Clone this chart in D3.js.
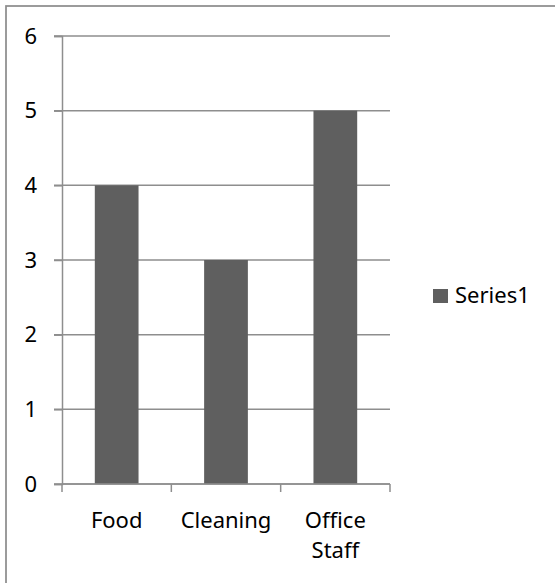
<!DOCTYPE html>
<html lang="en">
<head>
    <meta charset="UTF-8">
    <script src="https://d3js.org/d3.v7.min.js"></script>
    <title>Bar Chart</title>
</head>
<style>
*{
    font-family: 'Noto Sans', sans-serif;
}

body {
    margin: 0;
    background-color: white;
}

svg text{
    font-size: 22px;
    fill: #000;
}
</style>
<body>
    <svg id='canvas'></svg>
</body>
<script>
let categories = ['Food', 'Cleaning', 'Office Staff']
let values = [4, 3, 5]
let yTicks = [0, 1, 2, 3, 4, 5, 6]
let seriesName = 'Series1'

let width = 555
let height = 583

let plotLeft = 62
let plotRight = 390
let plotTop = 36
let plotBottom = 484

let barColor = '#5f5f5f'
let lineColor = '#8e8e8e'

let svg = d3.select('#canvas')
    .attr('width', width)
    .attr('height', height)

// outer chart border, runs off the right and bottom edge
svg.append('rect')
    .attr('x', 6)
    .attr('y', 6)
    .attr('width', width + 10)
    .attr('height', height + 10)
    .attr('fill', 'white')
    .attr('stroke', lineColor)
    .attr('stroke-width', 1.75)

let xScale = d3.scaleBand()
    .domain(categories)
    .range([plotLeft, plotRight])
    .paddingInner(0.6)
    .paddingOuter(0.3)

let yScale = d3.scaleLinear()
    .domain([0, 6])
    .range([plotBottom, plotTop])

// gridlines (with the little tick stub on the left)
svg.append('g')
    .selectAll('line')
    .data(yTicks)
    .enter()
    .append('line')
    .attr('x1', plotLeft - 8)
    .attr('x2', plotRight)
    .attr('y1', (d) => yScale(d))
    .attr('y2', (d) => yScale(d))
    .attr('stroke', lineColor)
    .attr('stroke-width', 1.5)

// bars
svg.append('g')
    .selectAll('rect')
    .data(values)
    .enter()
    .append('rect')
    .attr('x', (d, i) => xScale(categories[i]))
    .attr('width', xScale.bandwidth())
    .attr('y', (d) => yScale(d))
    .attr('height', (d) => yScale(0) - yScale(d))
    .attr('fill', barColor)

// y axis
let yAxis = d3.axisLeft(yScale)
    .tickValues(yTicks)
    .tickSize(8)
    .tickPadding(17)
    .tickFormat(d3.format('d'))

let yAxisG = svg.append('g')
    .attr('transform', 'translate(' + plotLeft + ', 0)')
    .call(yAxis)

yAxisG.select('.domain').attr('stroke', lineColor).attr('stroke-width', 1.5)
yAxisG.selectAll('.tick line').attr('stroke', lineColor).attr('stroke-width', 1.5)
yAxisG.selectAll('.tick text')
    .style('font-size', '22px')
    .style('font-family', "'Noto Sans', sans-serif")
    .attr('fill', '#000')

// x axis: labels at band centres, ticks at band boundaries
let xAxis = d3.axisBottom(xScale)
    .tickSize(0)
    .tickPadding(28)

let xAxisG = svg.append('g')
    .attr('transform', 'translate(0, ' + plotBottom + ')')
    .call(xAxis)

xAxisG.select('.domain').remove()
xAxisG.selectAll('.tick text')
    .style('font-size', '22px')
    .style('font-family', "'Noto Sans', sans-serif")
    .attr('fill', '#000')
    .each(function(d) {
        let text = d3.select(this)
        let words = d.split(' ')
        if (words.length > 1) {
            let dy = text.attr('dy')
            text.text(null)
            words.forEach((w, i) => {
                text.append('tspan')
                    .attr('x', 0)
                    .attr('dy', i == 0 ? dy : '1.4em')
                    .text(w)
            })
        }
    })

svg.append('line')
    .attr('x1', plotLeft)
    .attr('x2', plotRight)
    .attr('y1', plotBottom)
    .attr('y2', plotBottom)
    .attr('stroke', lineColor)
    .attr('stroke-width', 1.5)

let step = xScale.step()
let gap = (step - xScale.bandwidth()) / 2
let boundaries = categories.map((c) => xScale(c) - gap)
boundaries.push(xScale(categories[categories.length - 1]) + xScale.bandwidth() + gap)

svg.append('g')
    .selectAll('line')
    .data(boundaries)
    .enter()
    .append('line')
    .attr('x1', (d) => d)
    .attr('x2', (d) => d)
    .attr('y1', plotBottom)
    .attr('y2', plotBottom + 8)
    .attr('stroke', lineColor)
    .attr('stroke-width', 1.5)

// legend
let legend = svg.append('g')
    .attr('transform', 'translate(433, 289)')

legend.append('rect')
    .attr('width', 15)
    .attr('height', 14)
    .attr('fill', barColor)

legend.append('text')
    .attr('x', 22)
    .attr('y', 14)
    .text(seriesName)
</script>
</html>
